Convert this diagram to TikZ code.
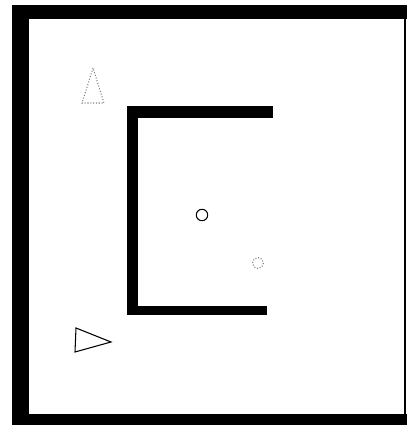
\documentclass[tikz,border=0pt]{standalone}
\usepackage{tikz}

\begin{document}
\begin{tikzpicture}[x=0.02cm, y=-0.02cm,
    wall/.style={fill=black},
    robot/.style={draw=black, line width=0.6pt},
    ghost/.style={draw=gray, line width=0.6pt, densely dotted}]
    \useasboundingbox (0,0) rectangle (407,425);
    % Outer frame
    \fill[wall] (12,5) rectangle (29,425);
    \fill[wall] (12,5) rectangle (407,19);
    \fill[wall] (12,414) rectangle (407,425);
    \draw[line width=0.8pt] (405,19) -- (405,414);
    % Inner C-shaped wall
    \fill[wall] (127,106) rectangle (138,315);
    \fill[wall] (127,106) rectangle (273,118);
    \fill[wall] (127,306) rectangle (267,315);
    % Triangles
    \draw[ghost] (93,68) -- (82,103) -- (104,103) -- cycle;
    \draw[robot] (76,328) -- (75,352) -- (111,342) -- cycle;
    % Circles
    \draw[robot] (202,215) circle (5.7);
    \draw[ghost] (258,263) circle (5.5);
\end{tikzpicture}
\end{document}
